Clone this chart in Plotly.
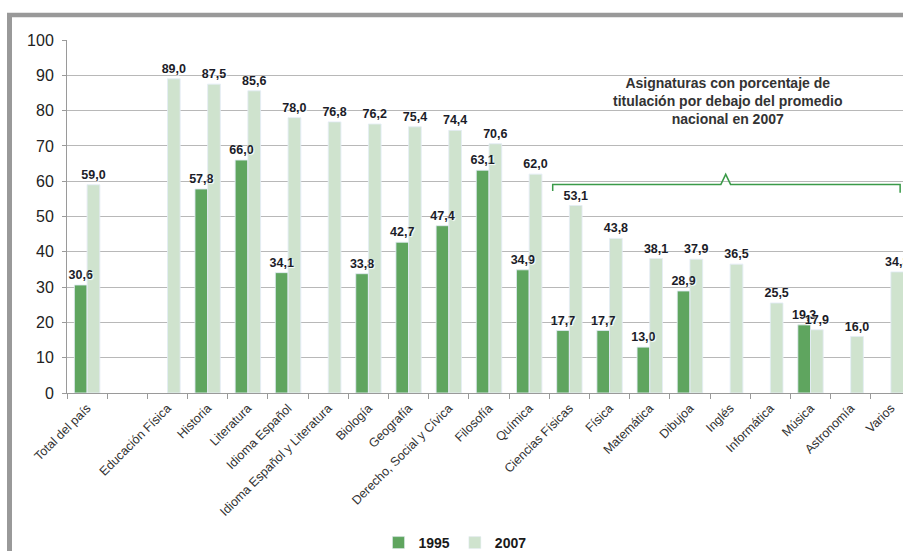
import plotly.graph_objects as go

# Categories (the second slot is an empty spacer between the national total and the subjects)
categories = [
    "Total del país", " ", "Educación Física", "Historia", "Literatura",
    "Idioma Español", "Idioma Español y Literatura", "Biología", "Geografía",
    "Derecho, Social y Cívica", "Filosofía", "Química", "Ciencias Físicas",
    "Física", "Matemática", "Dibujoa", "Inglés", "Informática", "Música",
    "Astronomía", "Varios",
]
values_1995 = [30.6, None, None, 57.8, 66.0, 34.1, None, 33.8, 42.7, 47.4,
               63.1, 34.9, 17.7, 17.7, 13.0, 28.9, None, None, 19.3, None, None]
values_2007 = [59.0, None, 89.0, 87.5, 85.6, 78.0, 76.8, 76.2, 75.4, 74.4,
               70.6, 62.0, 53.1, 43.8, 38.1, 37.9, 36.5, 25.5, 17.9, 16.0, 34.3]
y_ticks = [0, 10, 20, 30, 40, 50, 60, 70, 80, 90, 100]

DARK = "#5fa55f"
LIGHT = "#cfe3ce"
FONT = "Arial, Liberation Sans, sans-serif"
BAR_W = 0.316  # width of each bar, in category units


def fmt(vals):
    return ["" if v is None else f"{v:.1f}".replace(".", ",") for v in vals]


# Page geometry (pixels)
W, H = 903, 551
L, T, B = 67, 40, 393
plot_w = W - L
plot_h = B - T


def px_x(px):
    return (px - L) / plot_w


def px_y(py):
    return (B - py) / plot_h


label_font = dict(family=FONT, size=12.5, color="#1c1c28", weight="bold",
                  shadow="1px 1px 1px white")

series = (("1995", values_1995, DARK, -BAR_W), ("2007", values_2007, LIGHT, 0.0))

fig = go.Figure()
for name, vals, color, off in series:
    fig.add_trace(go.Bar(
        name=name, x=categories, y=vals, marker_color=color,
        width=BAR_W, offset=off, hoverinfo="x+y",
    ))
# Value labels on a transparent copy of each series so they sit above every bar
for name, vals, color, off in series:
    fig.add_trace(go.Bar(
        name=name, x=categories, y=vals, showlegend=False,
        marker=dict(color="rgba(0,0,0,0)"), width=BAR_W, offset=off,
        text=fmt(vals), textposition="outside", textfont=label_font,
        constraintext="none", cliponaxis=False, hoverinfo="skip",
    ))

x_end = -0.5 + plot_w / 40.19

# Bracket marking subjects below the national average in 2007
bx0, bx1 = 11.585, 20.23
cx0, cx, cx1 = 15.77, 15.89, 16.01
bracket = (f"M {bx0},57.2 L {bx0},59.1 L {cx0},59.1 L {cx},61.95 "
           f"L {cx1},59.1 L {bx1},59.1 L {bx1},56.7")

fig.update_layout(
    width=W, height=H,
    margin=dict(l=L, r=0, t=T, b=H - B, pad=0, autoexpand=False),
    paper_bgcolor="white", plot_bgcolor="white",
    barmode="overlay",
    showlegend=True,
    legend=dict(orientation="h", x=px_x(455), xanchor="center",
                y=px_y(543), yanchor="middle",
                font=dict(family=FONT, size=14, color="#1a1a1a", weight="bold"),
                itemwidth=30, tracegroupgap=0),
    xaxis=dict(
        type="category", range=[-0.5, x_end], automargin=False,
        tickangle=-45, tickson="boundaries", ticks="outside", ticklen=5,
        tickcolor="#9a9a9a", showline=True, linecolor="#9a9a9a", linewidth=1,
        showgrid=False, ticklabelstandoff=2,
        tickfont=dict(family=FONT, size=12.5, color="#333333"),
    ),
    yaxis=dict(
        range=[0, 100], tickvals=y_ticks, ticks="outside", ticklen=4,
        automargin=False, ticklabelstandoff=5,
        tickcolor="#9a9a9a", showline=True, linecolor="#9a9a9a", linewidth=1,
        gridcolor="#b8b8b8", gridwidth=1, zeroline=False,
        tickfont=dict(family=FONT, size=16, color="#222222"),
    ),
    shapes=[
        dict(type="path", xref="x", yref="y", path=bracket,
             line=dict(color="#3a9a48", width=1.5)),
        # frame around the chart box
        dict(type="line", xref="paper", yref="paper",
             x0=px_x(7), x1=px_x(W + 2), y0=px_y(15), y1=px_y(15),
             line=dict(color="#999999", width=4.5)),
        dict(type="line", xref="paper", yref="paper",
             x0=px_x(9.5), x1=px_x(9.5), y0=px_y(13), y1=px_y(H + 2),
             line=dict(color="#999999", width=5)),
    ],
    annotations=[
        dict(xref="paper", yref="paper", x=px_x(727), y=px_y(101),
             xanchor="center", yanchor="middle", showarrow=False,
             align="center",
             text="Asignaturas con porcentaje de<br>titulación por debajo del promedio<br>nacional en 2007",
             font=dict(family=FONT, size=14, color="#333333", weight="bold")),
    ],
)

fig.write_html("out.html")
